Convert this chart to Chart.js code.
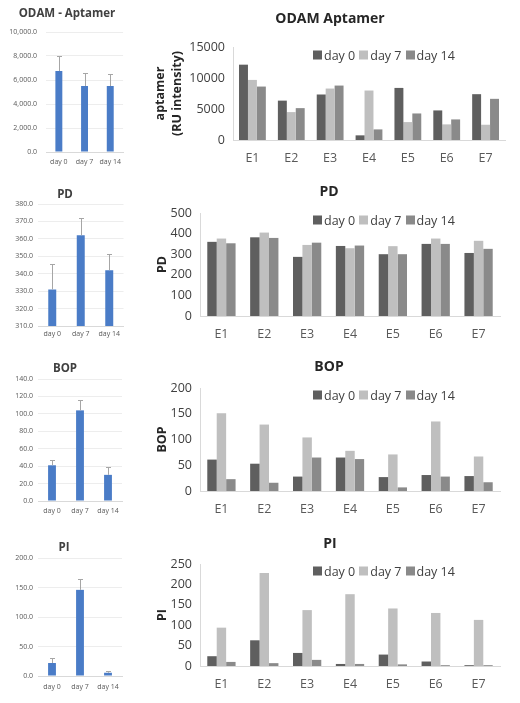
<!DOCTYPE html>
<html>
<head>
<meta charset="utf-8">
<script src="https://cdn.jsdelivr.net/npm/chart.js@4"></script>
<style>
  body { margin: 0; background: #fff; width: 520px; height: 703px; position: relative; overflow: hidden; font-family: "Open Sans", sans-serif; }
  canvas { position: absolute; }
  .ttl { position: absolute; transform: translate(-50%, -50%); font-weight: bold; color: #404040; white-space: nowrap; }
  .leg { position: absolute; display: flex; align-items: center; font-size: 12.5px; color: #404040; transform: translateY(-50%); white-space: nowrap; }
  .leg .it { display: flex; align-items: center; margin-right: 4px; }
  .leg .sw { display: inline-block; width: 9px; height: 9px; margin-right: 2px; }
</style>
</head>
<body>
<canvas id="l1" width="127" height="175" style="left:0;top:0"></canvas>
<canvas id="l2" width="127" height="175" style="left:0;top:175px"></canvas>
<canvas id="l3" width="127" height="175" style="left:0;top:350px"></canvas>
<canvas id="l4" width="127" height="178" style="left:0;top:525px"></canvas>
<canvas id="r1" width="390" height="175" style="left:130px;top:0"></canvas>
<canvas id="r2" width="390" height="175" style="left:130px;top:175px"></canvas>
<canvas id="r3" width="390" height="175" style="left:130px;top:350px"></canvas>
<canvas id="r4" width="390" height="178" style="left:130px;top:525px"></canvas>

<div class="ttl" style="left:67px;top:12px;font-size:11.5px">ODAM - Aptamer</div>
<div class="ttl" style="left:65px;top:193px;font-size:11.5px">PD</div>
<div class="ttl" style="left:65px;top:367px;font-size:11.5px">BOP</div>
<div class="ttl" style="left:64px;top:546px;font-size:11.5px">PI</div>

<div class="ttl" style="left:330px;top:17px;font-size:14px;color:#262626">ODAM Aptamer</div>
<div class="ttl" style="left:329px;top:190px;font-size:14px;color:#262626">PD</div>
<div class="ttl" style="left:329px;top:365px;font-size:14px;color:#262626">BOP</div>
<div class="ttl" style="left:330px;top:542px;font-size:14px;color:#262626">PI</div>

<script>
const days = ['day 0', 'day 7', 'day 14'];
const sites = ['E1', 'E2', 'E3', 'E4', 'E5', 'E6', 'E7'];

// small charts: mean and top of error bar
const meanAptamer = [6750, 5500, 5500];
const errAptamer = [8000, 6600, 6500];
const meanPD = [331, 362, 342];
const errPD = [345.5, 372, 351.5];
const meanBOP = [41, 104, 30];
const errBOP = [47, 116, 39];
const meanPI = [22, 146, 5.5];
const errPI = [31, 164, 8.5];

// per-site values
const aptDay0 = [12150, 6350, 7340, 750, 8400, 4770, 7390];
const aptDay7 = [9690, 4500, 8300, 7980, 2890, 2520, 2460];
const aptDay14 = [8620, 5140, 8780, 1710, 4280, 3320, 6640];
const pdDay0 = [360, 382, 287, 340, 300, 350, 306];
const pdDay7 = [376, 405, 345, 329, 339, 376, 365];
const pdDay14 = [353, 379, 356, 342, 300, 350, 326];
const bopDay0 = [61, 53, 28, 65, 27, 31, 29];
const bopDay7 = [151, 129, 104, 78, 71, 135, 67];
const bopDay14 = [23, 16, 65, 62, 7, 28, 17];
const piDay0 = [24, 63, 32, 5, 28, 11, 2];
const piDay7 = [94, 228, 137, 176, 141, 130, 113];
const piDay14 = [10, 7, 15, 5, 4, 2, 2];

// y tick values
const ticksAptamer = [0, 2000, 4000, 6000, 8000, 10000];
const ticksPD = [310, 320, 330, 340, 350, 360, 370, 380];
const ticksBOP = [0, 20, 40, 60, 80, 100, 120, 140];
const ticksPI = [0, 50, 100, 150, 200];
const ticksApt2 = [0, 5000, 10000, 15000];
const ticksPD2 = [0, 100, 200, 300, 400, 500];
const ticksBOP2 = [0, 50, 100, 150, 200];
const ticksPI2 = [0, 50, 100, 150, 200, 250];

const legendColors = ['#5f5f5f', '#bfbfbf', '#8a8a8a'];

Chart.defaults.font.family = '"Open Sans", sans-serif';

function errorBars(tops) {
    return {
        id: 'errorBars',
        afterDatasetsDraw(chart) {
            const meta = chart.getDatasetMeta(0);
            const y = chart.scales.y;
            const ctx = chart.ctx;
            ctx.save();
            ctx.strokeStyle = '#a6a6a6';
            ctx.lineWidth = 1;
            meta.data.forEach((bar, i) => {
                const x = Math.round(bar.x) + 0.5;
                const yTop = Math.round(y.getPixelForValue(tops[i])) + 0.5;
                ctx.beginPath();
                ctx.moveTo(x, bar.y);
                ctx.lineTo(x, yTop);
                ctx.moveTo(x - 2.5, yTop);
                ctx.lineTo(x + 2.5, yTop);
                ctx.stroke();
            });
            ctx.restore();
        }
    };
}

function fmt(v) {
    return v.toLocaleString('en-US', { minimumFractionDigits: 1, maximumFractionDigits: 1 });
}

function smallChart(id, means, tops, yTicks, g) {
    new Chart(document.getElementById(id), {
        type: 'bar',
        data: {
            labels: days,
            datasets: [{ data: means, backgroundColor: '#4a7cc7', barPercentage: g.bar, categoryPercentage: 1 }]
        },
        options: {
            responsive: false,
            animation: false,
            layout: { padding: { left: 0, right: g.right, top: g.top, bottom: 0 } },
            plugins: { legend: { display: false }, tooltip: { enabled: false } },
            scales: {
                x: {
                    grid: { display: false, drawTicks: false },
                    border: { color: '#d9d9d9' },
                    ticks: { font: { size: 7 }, color: '#595959', padding: g.xpad, maxRotation: 0, minRotation: 0, autoSkip: false },
                    afterFit: s => { s.height = g.xh; }
                },
                y: {
                    min: yTicks[0],
                    max: yTicks[yTicks.length - 1],
                    afterBuildTicks: s => { s.ticks = yTicks.map(v => ({ value: v })); },
                    grid: { color: '#ededed', drawTicks: false },
                    border: { display: false },
                    ticks: { font: { size: 7 }, color: '#595959', padding: g.ypad, callback: v => fmt(v) },
                    afterFit: s => { s.width = g.yw; }
                }
            }
        },
        plugins: [errorBars(tops)]
    });
}

function groupChart(id, d0, d7, d14, yTicks, yTitle, g) {
    const sets = [d0, d7, d14].map((d, i) => ({
        label: days[i], data: d, backgroundColor: legendColors[i],
        barPercentage: 1, categoryPercentage: g.cat
    }));
    new Chart(document.getElementById(id), {
        type: 'bar',
        data: { labels: sites, datasets: sets },
        options: {
            responsive: false,
            animation: false,
            layout: { padding: { left: 0, right: g.right, top: g.top, bottom: 0 } },
            plugins: { legend: { display: false }, tooltip: { enabled: false } },
            scales: {
                x: {
                    grid: { display: false, drawTicks: false },
                    border: { color: '#d9d9d9' },
                    ticks: { font: { size: 12.5 }, color: '#595959', padding: 11, maxRotation: 0, autoSkip: false },
                    afterFit: s => { s.height = g.xh; }
                },
                y: {
                    min: yTicks[0],
                    max: yTicks[yTicks.length - 1],
                    afterBuildTicks: s => { s.ticks = yTicks.map(v => ({ value: v })); },
                    grid: { display: false, drawTicks: false },
                    border: { color: '#d9d9d9' },
                    ticks: { font: { size: 12.5 }, color: '#404040', padding: 8, callback: v => String(v) },
                    title: {
                        display: true, text: yTitle, color: '#262626',
                        font: { size: 12.5, weight: 'bold', lineHeight: 1.36 },
                        padding: { top: g.tpad, bottom: 0 }
                    },
                    afterFit: s => { s.width = g.yw; }
                }
            }
        }
    });
}

function htmlLegend(top) {
    const box = document.createElement('div');
    box.className = 'leg';
    box.style.left = '313px';
    box.style.top = top + 'px';
    days.forEach((d, i) => {
        const it = document.createElement('span');
        it.className = 'it';
        it.innerHTML = '<span class="sw" style="background:' + legendColors[i] + '"></span>' + d;
        box.appendChild(it);
    });
    document.body.appendChild(box);
}

smallChart('l1', meanAptamer, errAptamer, ticksAptamer, { yw: 46, ypad: 9, top: 32, right: 3, xh: 23, xpad: 5.5, bar: 0.27 });
smallChart('l2', meanPD, errPD, ticksPD, { yw: 38, ypad: 5, top: 29, right: 3.5, xh: 24, xpad: 4, bar: 0.28 });
smallChart('l3', meanBOP, errBOP, ticksBOP, { yw: 38, ypad: 5, top: 29, right: 5, xh: 24, xpad: 6, bar: 0.28 });
smallChart('l4', meanPI, errPI, ticksPI, { yw: 38, ypad: 5, top: 33, right: 5, xh: 27, xpad: 7, bar: 0.28 });

groupChart('r1', aptDay0, aptDay7, aptDay14, ticksApt2, ['aptamer', '(RU intensity)'], { yw: 103, top: 47, right: 15, xh: 35, cat: 0.69, tpad: 21.5 });
groupChart('r2', pdDay0, pdDay7, pdDay14, ticksPD2, 'PD', { yw: 70, top: 38, right: 20, xh: 34, cat: 0.66, tpad: 23.5 });
groupChart('r3', bopDay0, bopDay7, bopDay14, ticksBOP2, 'BOP', { yw: 70, top: 38, right: 20, xh: 34, cat: 0.66, tpad: 23.5 });
groupChart('r4', piDay0, piDay7, piDay14, ticksPI2, 'PI', { yw: 70, top: 39, right: 20, xh: 37, cat: 0.66, tpad: 23.5 });

htmlLegend(55);
htmlLegend(220);
htmlLegend(395);
htmlLegend(571);
</script>
</body>
</html>
